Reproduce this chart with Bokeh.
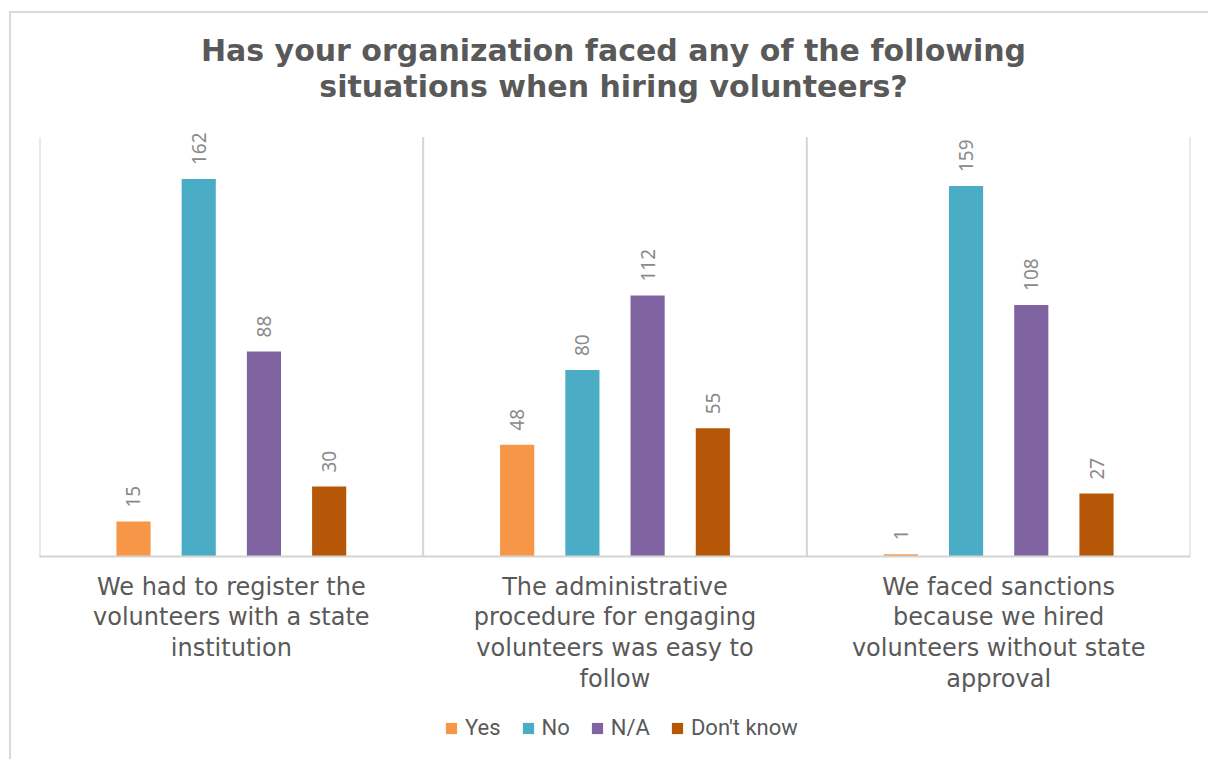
import numpy as np
from bokeh.plotting import figure
from bokeh.layouts import column
from bokeh.models import ColumnDataSource, Range1d, FixedTicker, Legend, LegendItem, Label
from bokeh.core.properties import value
from bokeh.embed import file_html
from bokeh.resources import INLINE

title_lines = ["Has your organization faced any of the following",
               "situations when hiring volunteers?"]
categories = [
    "We had to register the\nvolunteers with a state\ninstitution",
    "The administrative\nprocedure for engaging\nvolunteers was easy to\nfollow",
    "We faced sanctions\nbecause we hired\nvolunteers without state\napproval",
]
series = ["Yes", "No", "N/A", "Don't know"]
yes = [15, 48, 1]
no = [162, 80, 159]
na = [88, 112, 108]
dont_know = [30, 55, 27]
colors = ["#F79646", "#4BACC6", "#8064A2", "#B65708"]
axis_max = 180

values_by_series = [yes, no, na, dont_know]
offsets = [-0.255, -0.085, 0.085, 0.255]
centers = np.arange(len(categories)) + 0.5
boundaries = np.arange(len(categories) + 1)

W = 1197


def bare(fig):
    fig.xaxis.visible = False
    fig.yaxis.visible = False
    fig.xgrid.visible = False
    fig.ygrid.visible = False
    fig.outline_line_color = None
    return fig


# Title area
p0 = bare(figure(width=W, height=107, x_range=Range1d(0, 1), y_range=Range1d(0, 1),
                 output_backend="svg", toolbar_location=None, min_border=0))
for yy, line in zip([70, 34], title_lines):
    p0.add_layout(Label(x=574, y=yy, x_units="screen", y_units="screen", text=line,
                        text_align="center", text_baseline="middle",
                        text_font="DejaVu Sans", text_font_style="bold",
                        text_font_size="30px", text_color="#595959"))

# Main chart
p = figure(width=W, height=582, x_range=Range1d(0, 3), y_range=Range1d(0, 185),
           output_backend="svg", toolbar_location=None,
           min_border_left=28, min_border_right=18, min_border_top=5, min_border_bottom=146)
p.outline_line_color = None
p.yaxis.visible = False
p.xgrid.visible = False
p.ygrid.visible = False

# category dividers
p.segment(x0=boundaries, y0=0, x1=boundaries, y1=axis_max, line_color="#d4d4d4", line_width=2)

# Legend area
p2 = bare(figure(width=W, height=57, x_range=Range1d(0, 3), y_range=Range1d(0, 200),
                 output_backend="svg", toolbar_location=None, min_border=0))

items = []
for name, vals, off, col in zip(series, values_by_series, offsets, colors):
    src = ColumnDataSource(dict(x=centers + off, top=vals, label=[str(v) for v in vals]))
    p.vbar(x="x", top="top", width=0.089, bottom=0, source=src, fill_color=col, line_color=None)
    p.text(x="x", y="top", text="label", source=src, angle=np.pi / 2, text_align="left",
           text_baseline="middle", y_offset=-14, text_font=value("Noto Sans"),
           text_font_size="19px", text_color="#8a8a8a")
    r2 = p2.vbar(x="x", top="top", width=0.089, bottom=0, source=src, fill_color=col,
                 line_color=None, visible=False)
    items.append(LegendItem(label=name, renderers=[r2]))

xa = p.xaxis[0]
xa.ticker = FixedTicker(ticks=list(centers))
xa.major_label_overrides = {float(c): lab for c, lab in zip(centers, categories)}
xa.major_tick_line_color = None
xa.minor_tick_line_color = None
xa.axis_line_color = "#d4d4d4"
xa.axis_line_width = 2
xa.major_label_text_font = "DejaVu Sans"
xa.major_label_text_font_size = "24px"
xa.major_label_text_color = "#595959"
xa.major_label_text_line_height = 1.1
xa.major_label_standoff = 10

legend = Legend(items=items, orientation="horizontal", location=(405, 19))
legend.label_text_font = "Roboto"
legend.label_text_font_size = "22px"
legend.label_text_color = "#595959"
legend.glyph_width = 14
legend.glyph_height = 14
legend.label_standoff = 7
legend.spacing = 20
legend.border_line_color = None
legend.background_fill_alpha = 0
legend.inactive_fill_alpha = 0
legend.margin = 0
legend.padding = 4
p2.add_layout(legend, "center")

layout = column(p0, p, p2, spacing=0,
                styles={"border-left": "2px solid #d9d9d9", "border-top": "2px solid #d9d9d9",
                        "margin-left": "9px", "margin-top": "11px"})

open("out.html", "w").write(file_html(layout, INLINE))
